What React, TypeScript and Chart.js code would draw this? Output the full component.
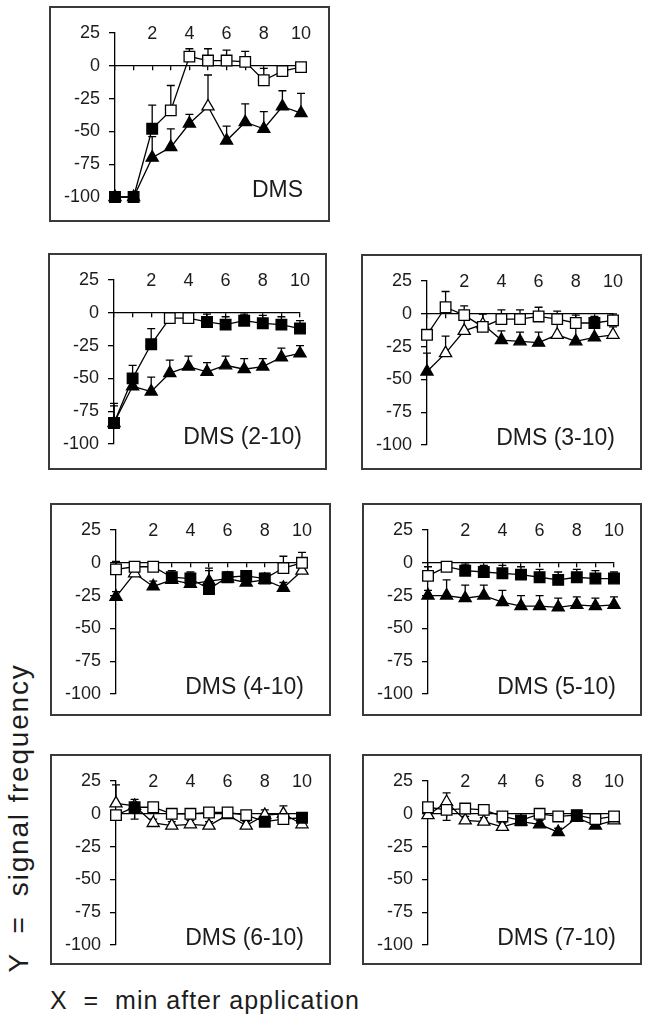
import React, { useEffect, useRef } from "react";
import { Chart, registerables } from "chart.js";

Chart.register(...registerables);

// ---------------- data ----------------
const minutes = [0, 1, 2, 3, 4, 5, 6, 7, 8, 9, 10];
const xTickValues = [2, 4, 6, 8, 10];
const yTickValues = [25, 0, -25, -50, -75, -100];
const panelLabels = ["DMS", "DMS (2-10)", "DMS (3-10)", "DMS (4-10)", "DMS (5-10)", "DMS (6-10)", "DMS (7-10)"];
const yCaption = "Y  =  signal frequency";
const xCaption = "X  =  min after application";

// DMS
const dmsSquare = [-100, -100, -48, -34, 7, 4, 4, 3, -11, -4, -1];
const dmsSquareErr = [0, 0, 18, 19, 6, 9, 8, 8, 9, 4, 0];
const dmsSquareFilled = [1, 1, 1, 0, 0, 0, 0, 0, 0, 0, 0];
const dmsTriangle = [-100, -100, -70, -62, -44, -31, -57, -43, -48, -31, -36];
const dmsTriangleErr = [0, 0, 16, 14, 7, 24, 11, 14, 13, 12, 15];
const dmsTriangleFilled = [1, 1, 1, 1, 1, 0, 1, 1, 1, 1, 1];

// DMS (2-10)
const d2Square = [-84, -50, -24, -4, -4, -7, -9, -6, -8, -9, -12];
const d2SquareErr = [15, 10, 12, 3, 3, 6, 6, 5, 6, 6, 6];
const d2SquareFilled = [1, 1, 1, 0, 0, 1, 1, 1, 1, 1, 1];
const d2Triangle = [-84, -56, -60, -46, -41, -45, -40, -43, -41, -34, -31];
const d2TriangleErr = [13, 8, 11, 10, 8, 7, 7, 8, 6, 7, 6];
const d2TriangleFilled = [1, 1, 1, 1, 1, 1, 1, 1, 1, 1, 1];

// DMS (3-10)
const d3Square = [-16, 5, -1, -10, -4, -4, -2, -4, -7, -7, -5];
const d3SquareErr = [4, 12, 7, 10, 7, 7, 7, 6, 6, 5, 5];
const d3SquareFilled = [0, 0, 0, 0, 0, 0, 0, 0, 0, 1, 0];
const d3Triangle = [-44, -30, -13, -8, -20, -21, -22, -16, -21, -18, -16];
const d3TriangleErr = [14, 13, 8, 8, 7, 7, 8, 10, 10, 8, 6];
const d3TriangleFilled = [1, 0, 0, 0, 1, 1, 1, 0, 1, 1, 0];

// DMS (4-10)
const d4Square = [-5, -3, -3, -11, -12, -20, -11, -10, -12, -4, 0];
const d4SquareErr = [6, 3, 3, 5, 5, 14, 4, 4, 4, 9, 8];
const d4SquareFilled = [0, 0, 0, 1, 1, 1, 1, 1, 1, 0, 0];
const d4Triangle = [-26, -8, -18, -13, -16, -14, -12, -15, -13, -19, -6];
const d4TriangleErr = [4, 4, 4, 4, 6, 10, 4, 5, 4, 4, 5];
const d4TriangleFilled = [1, 0, 1, 1, 1, 1, 1, 1, 1, 1, 0];

// DMS (5-10)
const d5Square = [-10, -3, -6, -7, -8, -9, -11, -13, -11, -12, -12];
const d5SquareErr = [7, 3, 5, 5, 6, 6, 6, 6, 6, 6, 5];
const d5SquareFilled = [0, 0, 1, 1, 1, 1, 1, 1, 1, 1, 1];
const d5Triangle = [-25, -25, -27, -25, -30, -33, -33, -34, -32, -33, -32];
const d5TriangleErr = [4, 12, 10, 8, 9, 8, 8, 7, 6, 6, 6];
const d5TriangleFilled = [1, 1, 1, 1, 1, 1, 1, 1, 1, 1, 1];

// DMS (6-10)
const d6Square = [-1, 5, 5, 0, 0, 1, 1, -1, -6, -4, -3];
const d6SquareErr = [3, 6, 3, 3, 3, 3, 3, 3, 5, 3, 3];
const d6SquareFilled = [0, 1, 0, 0, 0, 0, 0, 0, 1, 0, 1];
const d6Triangle = [8, 6, -7, -9, -8, -9, -1, -9, -1, 0, -8];
const d6TriangleErr = [14, -10, 3, 3, 3, 3, 3, 3, 4, 6, 3];
const d6TriangleFilled = [0, 0, 0, 0, 0, 0, 0, 0, 0, 0, 0];

// DMS (7-10)
const d7Square = [5, 3, 4, 3, -2, -5, 0, -2, -1, -4, -2];
const d7SquareErr = [3, -8, 3, 3, 3, 3, 3, 3, 3, 3, 3];
const d7SquareFilled = [0, 0, 0, 0, 0, 1, 0, 0, 1, 0, 0];
const d7Triangle = [-1, 9, -5, -6, -10, -6, -8, -14, -3, -9, -5];
const d7TriangleErr = [3, 7, 3, 3, 3, 3, 3, 3, 3, 3, 3];
const d7TriangleFilled = [0, 0, 0, 0, 0, 1, 1, 1, 0, 1, 0];

const panels = [
  { label: panelLabels[0], sq: dmsSquare, sqErr: dmsSquareErr, sqFilled: dmsSquareFilled, tri: dmsTriangle, triErr: dmsTriangleErr, triFilled: dmsTriangleFilled },
  { label: panelLabels[1], sq: d2Square, sqErr: d2SquareErr, sqFilled: d2SquareFilled, tri: d2Triangle, triErr: d2TriangleErr, triFilled: d2TriangleFilled },
  { label: panelLabels[2], sq: d3Square, sqErr: d3SquareErr, sqFilled: d3SquareFilled, tri: d3Triangle, triErr: d3TriangleErr, triFilled: d3TriangleFilled },
  { label: panelLabels[3], sq: d4Square, sqErr: d4SquareErr, sqFilled: d4SquareFilled, tri: d4Triangle, triErr: d4TriangleErr, triFilled: d4TriangleFilled },
  { label: panelLabels[4], sq: d5Square, sqErr: d5SquareErr, sqFilled: d5SquareFilled, tri: d5Triangle, triErr: d5TriangleErr, triFilled: d5TriangleFilled },
  { label: panelLabels[5], sq: d6Square, sqErr: d6SquareErr, sqFilled: d6SquareFilled, tri: d6Triangle, triErr: d6TriangleErr, triFilled: d6TriangleFilled },
  { label: panelLabels[6], sq: d7Square, sqErr: d7SquareErr, sqFilled: d7SquareFilled, tri: d7Triangle, triErr: d7TriangleErr, triFilled: d7TriangleFilled },
];

// ---------------- layout / style ----------------
const FONT_FAMILY = "'Liberation Sans', Arial, Helvetica, sans-serif";
const BORDER = 2;
const BOXES = [
  { x: 49, y: 6, w: 281, h: 216 },
  { x: 48, y: 253, w: 279, h: 217 },
  { x: 361, y: 254, w: 281, h: 216 },
  { x: 50, y: 503, w: 281, h: 213 },
  { x: 362, y: 503, w: 280, h: 213 },
  { x: 50, y: 754, w: 281, h: 211 },
  { x: 362, y: 754, w: 280, h: 211 },
];
// chart area inside the canvas
const AREA_LEFT = 64;
const AREA_TOP = 25;
const AREA_RIGHT = 250;
const AREA_BOTTOM = 189;
const TICK_FONT = 18;
const LABEL_FONT = 23;
const INK = "#1c1c1c";

Chart.defaults.font.family = FONT_FAMILY;

const zeroPad = (s: any) => {
  s.paddingLeft = 0;
  s.paddingRight = 0;
  s.paddingTop = 0;
  s.paddingBottom = 0;
};

const errorBarPlugin = {
  id: "errorBars",
  beforeDatasetsDraw(chart: any) {
    const { ctx } = chart;
    const xs = chart.scales.x;
    const ys = chart.scales.y;
    ctx.save();
    ctx.strokeStyle = "#000";
    ctx.lineWidth = 1.3;
    chart.data.datasets.forEach((ds: any) => {
      ds.data.forEach((pt: any, i: number) => {
        const e = ds.errs[i];
        if (!e) return;
        const px = xs.getPixelForValue(pt.x);
        const y0 = ys.getPixelForValue(pt.y);
        const y1 = ys.getPixelForValue(pt.y + e);
        ctx.beginPath();
        ctx.moveTo(px, y0);
        ctx.lineTo(px, y1);
        ctx.moveTo(px - 4, y1);
        ctx.lineTo(px + 4, y1);
        ctx.stroke();
      });
    });
    ctx.restore();
  },
};

const panelLabelPlugin = {
  id: "panelLabel",
  afterDraw(chart: any, _args: any, opts: any) {
    const { ctx } = chart;
    const xs = chart.scales.x;
    const ys = chart.scales.y;
    ctx.save();
    ctx.font = `${LABEL_FONT}px ${FONT_FAMILY}`;
    ctx.fillStyle = INK;
    ctx.textAlign = "right";
    ctx.textBaseline = "alphabetic";
    ctx.fillText(opts.text, xs.getPixelForValue(xs.max) + 2, ys.getPixelForValue(ys.min));
    ctx.restore();
  },
};

function Panel({ p, box }: { p: any; box: any }) {
  const ref = useRef<HTMLCanvasElement>(null);
  const cw = box.w - 2 * BORDER;
  const ch = box.h - 2 * BORDER;
  useEffect(() => {
    const mk = (vals: number[]) => minutes.map((m, i) => ({ x: m, y: vals[i] }));
    const chart = new Chart(ref.current as HTMLCanvasElement, {
      type: "line",
      data: {
        datasets: [
          {
            data: mk(p.sq),
            errs: p.sqErr,
            pointStyle: "rect",
            pointRadius: 7.5,
            pointBackgroundColor: p.sqFilled.map((f: number) => (f ? "#000" : "#fff")),
            pointBorderColor: "#000",
            pointBorderWidth: 1.3,
            borderColor: "#000",
            borderWidth: 1.3,
            tension: 0,
            clip: false,
          } as any,
          {
            data: mk(p.tri),
            errs: p.triErr,
            pointStyle: "triangle",
            pointRadius: 7,
            pointBackgroundColor: p.triFilled.map((f: number) => (f ? "#000" : "#fff")),
            pointBorderColor: "#000",
            pointBorderWidth: 1.3,
            borderColor: "#000",
            borderWidth: 1.3,
            tension: 0,
            clip: false,
          } as any,
        ],
      },
      options: {
        responsive: false,
        animation: false,
        events: [],
        layout: {
          padding: { left: 0, top: 0, right: cw - AREA_RIGHT, bottom: ch - AREA_BOTTOM },
          autoPadding: false,
        } as any,
        plugins: {
          legend: { display: false },
          tooltip: { enabled: false },
          panelLabel: { text: p.label },
        } as any,
        scales: {
          x: {
            type: "linear",
            position: "top",
            min: 0,
            max: 10,
            afterBuildTicks: (s: any) => {
              s.ticks = xTickValues.map((v) => ({ value: v }));
            },
            grid: { display: false, drawTicks: false },
            border: { display: false },
            ticks: {
              font: { size: TICK_FONT },
              color: INK,
              mirror: true,
              padding: -10,
              maxRotation: 0,
              autoSkip: false,
            },
            afterFit: (s: any) => {
              s.height = AREA_TOP;
              zeroPad(s);
            },
          },
          x2: {
            type: "linear",
            axis: "x",
            position: { y: 0 },
            min: 0,
            max: 10,
            afterBuildTicks: (s: any) => {
              s.ticks = minutes.map((v) => ({ value: v }));
            },
            ticks: { display: false },
            grid: { drawOnChartArea: false, drawTicks: true, tickLength: 4, color: "#000", lineWidth: 1.3 },
            border: { display: true, color: "#000", width: 1.3 },
            afterFit: (s: any) => zeroPad(s),
          },
          y: {
            type: "linear",
            position: "left",
            min: -100,
            max: 25,
            afterBuildTicks: (s: any) => {
              s.ticks = yTickValues.map((v) => ({ value: v }));
            },
            grid: { drawOnChartArea: false, drawTicks: true, tickLength: 6, color: "#000", lineWidth: 1.3 },
            border: { display: true, color: "#000", width: 1.3 },
            ticks: { font: { size: TICK_FONT }, color: INK, padding: 9 },
            afterFit: (s: any) => {
              s.width = AREA_LEFT;
              zeroPad(s);
            },
          },
        } as any,
      },
      plugins: [errorBarPlugin, panelLabelPlugin],
    } as any);
    return () => chart.destroy();
  }, []);
  return (
    <div
      style={{
        position: "absolute",
        left: box.x,
        top: box.y,
        width: box.w,
        height: box.h,
        border: `${BORDER}px solid #3a3a3a`,
        boxSizing: "border-box",
        background: "#fff",
      }}
    >
      <canvas ref={ref} width={cw} height={ch} style={{ display: "block", width: cw, height: ch }} />
    </div>
  );
}

export default function App() {
  return (
    <div
      style={{
        position: "absolute",
        left: 0,
        top: 0,
        width: 651,
        height: 1023,
        background: "#fff",
        fontFamily: FONT_FAMILY,
        color: INK,
        overflow: "hidden",
      }}
    >
      {panels.map((p, i) => (
        <Panel key={i} p={p} box={BOXES[i]} />
      ))}
      <div
        style={{
          position: "absolute",
          left: 19,
          top: 818,
          transform: "translate(-50%, -50%) rotate(-90deg)",
          fontSize: 28,
          lineHeight: "28px",
          letterSpacing: 1.8,
          whiteSpace: "pre",
        }}
      >
        {yCaption}
      </div>
      <div
        style={{
          position: "absolute",
          left: 50,
          top: 988,
          fontSize: 25,
          lineHeight: "25px",
          letterSpacing: 1.0,
          whiteSpace: "pre",
        }}
      >
        {xCaption}
      </div>
    </div>
  );
}
